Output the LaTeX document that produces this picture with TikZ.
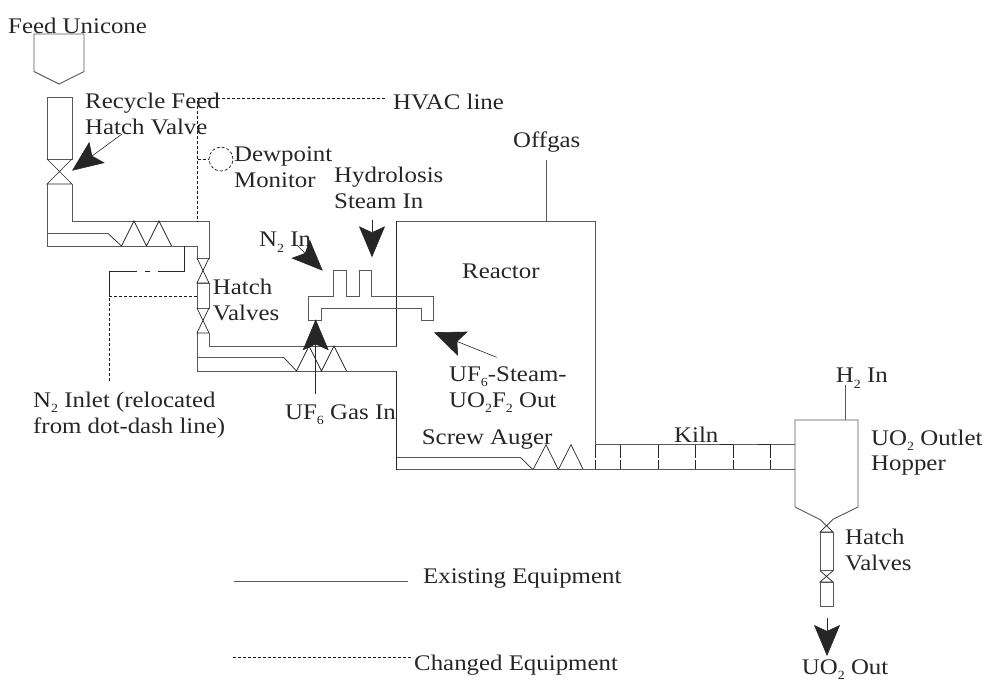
\documentclass[tikz,border=0pt]{standalone}
\usepackage{fontspec}
\setmainfont[FakeStretch=1.115]{Liberation Serif}
\usetikzlibrary{arrows.meta,positioning}
\newcommand{\subidx}[1]{\raisebox{-0.24em}{\fontsize{12.5}{12.5}\selectfont #1}}

\begin{document}
\begin{tikzpicture}[
    x=1pt, y=-1pt,
    equip/.style={draw=black!65, line width=0.9pt, line join=miter},
    thinline/.style={draw=black!85, line width=0.7pt},
    changed/.style={draw=black!90, line width=0.7pt, dash pattern=on 3pt off 2pt},
    flow/.style={draw=black!85, line width=0.6pt, -{Stealth[length=31pt,width=26pt,inset=6pt]}},
    lbl/.style={anchor=base west, inner sep=0pt, align=left, text=black!85, font=\fontsize{22.3}{25.5}\selectfont}
]
\useasboundingbox (0,0) rectangle (985,683);

% feed side
\draw[equip] (34,34) -- (84,34) -- (84,71.5) -- (59,84) -- (34,71.5) -- cycle;
\draw[equip] (47,159) -- (47,97) -- (72,97) -- (72,159) -- cycle;
\draw[thinline] (47,159) -- (72,184) -- (47,184) -- (72,159);
\draw[equip] (47,184) -- (47,246) -- (197,246);
\draw[equip] (72,184) -- (72,221) -- (209,221) -- (209,258) -- (197,258) -- (197,246);
\draw[equip] (47,233.5) -- (108,233.5);
\draw[thinline] (108,233.5) -- (121.5,246) -- (134,221) -- (146.5,246) -- (159,221) -- (171.5,246);

% hatch valves
\draw[thinline] (197,258) -- (209,283) -- (197,283) -- (209,258);
\draw[equip] (197,283) rectangle (209,308);
\draw[thinline] (197,308) -- (209,333) -- (197,333) -- (209,308);
\draw[equip] (197,333) -- (197,371) -- (396.7,371);
\draw[equip] (209,333) -- (209,346) -- (396.7,346);
\draw[equip] (197,357.7) -- (284,357.7);
\draw[thinline] (284,357.7) -- (296.5,371) -- (309,346) -- (321.5,371) -- (334,346) -- (346.5,371);

% reactor
\draw[thinline] (396.7,346) -- (396.7,221);
\draw[equip] (396.7,221) -- (595.5,221) -- (595.5,444.7);
\draw[thinline] (396.7,371) -- (396.7,469.7);
\draw[equip] (546,160) -- (546,221);
\draw[equip] (308.3,320.7) -- (308.3,296) -- (333.3,296) -- (333.3,270.7) -- (346.7,270.7) -- (346.7,296) -- (359,296) -- (359,270.7) -- (371.7,270.7) -- (371.7,296) -- (433.3,296) -- (433.3,320.7) -- (421.7,320.7) -- (421.7,308.3) -- (321.7,308.3) -- (321.7,320.7) -- cycle;

% screw auger and kiln
\draw[equip] (396.7,457.7) -- (520.7,457.7);
\draw[thinline] (520.7,457.7) -- (533,469.7) -- (546,444.7) -- (558.3,469.7) -- (571,444.7) -- (583.3,469.7);
\draw[equip] (396.7,469.7) -- (795,469.7);
\draw[equip] (595.5,444.7) -- (795,444.7);
\foreach \kx in {595.7,620,658.3,695.7,733.3,770.7}
    \draw[thinline, dash pattern=on 13pt off 2pt] (\kx,445) -- (\kx,469);
\draw[thinline] (720,444.7) -- (733.3,444.7);
\draw[thinline] (758,444.7) -- (770.7,444.7);

% outlet hopper
\draw[equip] (795,507) -- (795,420) -- (858,420) -- (858,507) -- (832.5,519.5);
\draw[equip] (795,507) -- (820,519.5);
\draw[equip] (845,385) -- (845,420);
\draw[thinline] (820,519.5) -- (833,532) -- (820,532) -- (833,519.5);
\draw[equip] (820,532) rectangle (833,570.7);
\draw[thinline] (820,570.7) -- (833,582) -- (820,582) -- (833,570.7);
\draw[equip] (820,582) rectangle (833,606.7);

% changed equipment
\draw[changed] (385,98) -- (197.7,98) -- (197.7,221);
\draw[changed] (197.7,159) -- (209,159);
\node[changed, draw, circle, minimum size=24pt, inner sep=0pt] (dewpoint) at (221,159) {};
\draw[thinline] (184,246) -- (184,271) -- (158,271);
\draw[thinline] (150,271) -- (145,271);
\draw[thinline] (137,271) -- (109.3,271) -- (109.3,296);
\draw[changed] (197,296) -- (109.3,296) -- (109.3,381.7);

% labels
\node[lbl] (unicone) at (8,33) {Feed Unicone};
\node[lbl] (recycle) at (85,134) {Recycle Feed\\Hatch Valve};
\node[lbl] (hvac) at (393,109) {HVAC line};
\node[lbl] (monitor) at (234,187) {Dewpoint\\Monitor};
\node[lbl] (offgas) at (513,147) {Offgas};
\node[lbl] (hydro) at (334,208) {Hydrolosis\\Steam In};
\node[lbl] (ntwo) at (259,246.7) {N\subidx{2} In};
\node[lbl] (reactor) at (462,278) {Reactor};
\node[lbl] (hatchup) at (212.7,320) {Hatch\\Valves};
\node[lbl] (inlet) at (33,433) {N\subidx{2} Inlet (relocated\\from dot-dash line)};
\node[lbl] (gasin) at (285,419) {UF\subidx{6} Gas In};
\node[lbl] (steamout) at (449,407) {UF\subidx{6}-Steam-\\UO\subidx{2}F\subidx{2} Out};
\node[lbl] (auger) at (421.7,444) {Screw Auger};
\node[lbl] (kiln) at (674,442.7) {Kiln};
\node[lbl] (htwo) at (835.7,382.7) {H\subidx{2} In};
\node[lbl] (hopper) at (871,470.7) {UO\subidx{2} Outlet\\Hopper};
\node[lbl] (hatchlow) at (845,570) {Hatch\\Valves};
\node[lbl] (uoout) at (801.7,674.5) {UO\subidx{2} Out};
\node[lbl] (existing) at (423,583) {Existing Equipment};
\node[lbl] (changedlbl) at (414,670) {Changed Equipment};

% legend lines
\coordinate (exa) at (234,581.7);
\coordinate (cha) at (233,657.7);
\draw[equip] (exa) -- (408,581.7);
\draw[changed] (cha) -- (412,657.7);

% flow arrows
\coordinate (recycleA) at (122,134);  \coordinate (recycleB) at (72,170.7);
\coordinate (ntwoA) at (296.7,245);   \coordinate (ntwoB) at (322.7,270.7);
\coordinate (steamA) at (372,220);    \coordinate (steamB) at (372,257.3);
\coordinate (gasA) at (315.7,394);    \coordinate (gasB) at (315.7,319.3);
\coordinate (outA) at (496.7,357.3);  \coordinate (outB) at (434,332.3);
\coordinate (uoA) at (827,618);       \coordinate (uoB) at (827,656);
\draw[flow] (recycleA) -- (recycleB);
\draw[flow] (ntwoA) -- (ntwoB);
\draw[flow] (steamA) -- (steamB);
\draw[flow] (gasA) -- (gasB);
\draw[flow] (outA) -- (outB);
\draw[flow] (uoA) -- (uoB);
\end{tikzpicture}
\end{document}
